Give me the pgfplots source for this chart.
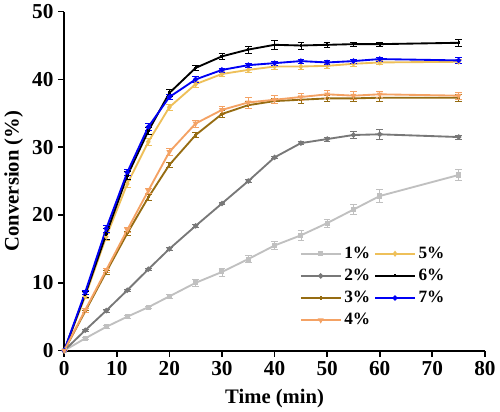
\documentclass[border=0pt]{standalone}
\usepackage{pgfplots}
\pgfplotsset{compat=1.18}
\usepackage{pgfplotstable}
\usepackage{fontspec}
\setmainfont{Liberation Serif}
\definecolor{cA}{RGB}{192,192,192}
\definecolor{cB}{RGB}{120,120,120}
\definecolor{cC}{RGB}{150,108,18}
\definecolor{cD}{RGB}{244,162,100}
\definecolor{cE}{RGB}{238,192,90}
\definecolor{cF}{RGB}{0,0,0}
\definecolor{cG}{RGB}{0,0,245}
\pgfplotstableread{
t y e
0 0 0
4 1.8 0.2
8 3.5 0.2
12 5.0 0.2
16 6.4 0.2
20 8.0 0.3
25 10.0 0.5
30 11.6 0.6
35 13.5 0.5
40 15.5 0.6
45 17.0 0.8
50 18.8 0.6
55 20.8 0.7
60 22.8 1.0
75 25.9 0.8
}\dA
\pgfplotstableread{
t y e
0 0 0
4 3.0 0.2
8 5.9 0.2
12 8.9 0.2
16 12.0 0.2
20 15.0 0.2
25 18.4 0.2
30 21.7 0.2
35 25.0 0.2
40 28.5 0.2
45 30.6 0.2
50 31.2 0.3
55 31.8 0.5
60 31.9 0.8
75 31.5 0.3
}\dB
\pgfplotstableread{
t y e
0 0 0
4 5.8 0.2
8 11.6 0.3
12 17.3 0.3
16 22.6 0.4
20 27.4 0.4
25 31.8 0.4
30 34.9 0.5
35 36.2 0.5
40 36.8 0.4
45 37.0 0.5
50 37.2 0.5
55 37.2 0.5
60 37.3 0.5
75 37.3 0.5
}\dC
\pgfplotstableread{
t y e
0 0 0
4 6.0 0.3
8 11.9 0.3
12 17.8 0.4
16 23.6 0.4
20 29.3 0.5
25 33.5 0.5
30 35.5 0.6
35 36.6 0.8
40 37.0 0.6
45 37.4 0.5
50 37.8 0.6
55 37.6 0.6
60 37.8 0.5
75 37.6 0.5
}\dD
\pgfplotstableread{
t y e
0 0 0
4 8.0 0.3
8 16.8 0.5
12 24.6 0.5
16 30.8 0.5
20 35.9 0.4
25 39.3 0.4
30 40.8 0.4
35 41.4 0.4
40 41.9 0.4
45 41.9 0.4
50 42.0 0.4
55 42.3 0.3
60 42.5 0.3
75 42.6 0.3
}\dE
\pgfplotstableread{
t y e
0 0 0
4 8.3 0.4
8 17.2 0.8
12 25.8 0.6
16 32.4 0.5
20 38.0 0.5
25 41.7 0.4
30 43.4 0.5
35 44.4 0.5
40 45.1 0.7
45 45.0 0.5
50 45.1 0.3
55 45.2 0.3
60 45.2 0.3
75 45.4 0.5
}\dF
\pgfplotstableread{
t y e
0 0 0
4 8.6 0.3
8 18.0 0.5
12 26.3 0.5
16 33.0 0.5
20 37.4 0.4
25 40.0 0.4
30 41.4 0.3
35 42.1 0.3
40 42.4 0.3
45 42.7 0.3
50 42.5 0.3
55 42.7 0.3
60 43.0 0.3
75 42.8 0.5
}\dG
\begin{document}
\begin{tikzpicture}
\begin{axis}[
  scale only axis, width=316.5pt, height=255pt,
  xmin=0, xmax=80, ymin=0, ymax=50,
  axis lines=left,
  axis line style={line width=1.5pt, -},
  xtick={0,10,...,80}, ytick={0,10,...,50},
  tick align=outside, major tick length=4.5pt,
  tick style={line width=1.3pt, black},
  /pgf/number format/assume math mode=true,
  ticklabel style={font=\fontsize{16}{16}\selectfont\bfseries},
  label style={font=\fontsize{15.5}{15.5}\selectfont\bfseries},
  xlabel={Time (min)}, ylabel={Conversion (\%)},
  xlabel style={yshift=-3pt},
  legend columns=2,
  legend cell align=left,
  legend style={draw=none, fill=none, at={(0.55,0.322)}, anchor=north west,
    font=\fontsize{13}{13}\selectfont\bfseries,
    /tikz/every even column/.append style={column sep=1pt},
    row sep=2.5pt},
  legend image code/.code={\draw[#1] (0pt,0pt) -- (30pt,0pt); \draw[#1] plot coordinates {(15pt,0pt)};},
  every axis plot/.append style={line width=1.4pt, mark size=1.2pt,
    error bars/error bar style={line width=0.5pt},
    error bars/error mark options={rotate=90, mark size=2.5pt, line width=0.5pt}},
]
\addplot[cA, mark=square*, error bars/.cd, y dir=both, y explicit] table[x=t, y=y, y error=e] {\dA};
\addlegendentry{1\%}
\addplot[cE, mark=diamond*, error bars/.cd, y dir=both, y explicit] table[x=t, y=y, y error=e] {\dE};
\addlegendentry{5\%}
\addplot[cB, mark=*, error bars/.cd, y dir=both, y explicit] table[x=t, y=y, y error=e] {\dB};
\addlegendentry{2\%}
\addplot[cF, mark=+, error bars/.cd, y dir=both, y explicit] table[x=t, y=y, y error=e] {\dF};
\addlegendentry{6\%}
\addplot[cC, mark=+, error bars/.cd, y dir=both, y explicit] table[x=t, y=y, y error=e] {\dC};
\addlegendentry{3\%}
\addplot[cG, mark=*, error bars/.cd, y dir=both, y explicit] table[x=t, y=y, y error=e] {\dG};
\addlegendentry{7\%}
\addplot[cD, mark=triangle*, mark options={rotate=180}, error bars/.cd, y dir=both, y explicit] table[x=t, y=y, y error=e] {\dD};
\addlegendentry{4\%}
\end{axis}
\end{tikzpicture}
\end{document}
